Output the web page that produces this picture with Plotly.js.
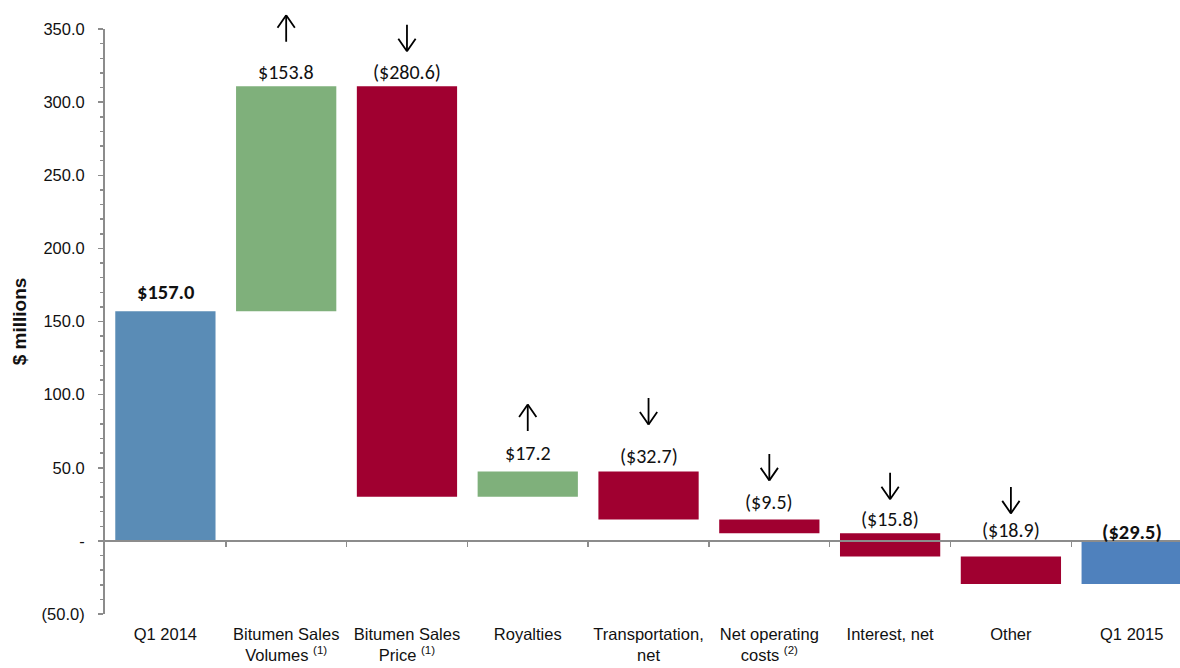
<!DOCTYPE html>
<html>
<head>
<meta charset="utf-8">
<script src="https://cdn.plot.ly/plotly-3.0.1.min.js"></script>
<style>html,body{margin:0;padding:0;background:#fff}#chart{width:1180px;height:668px}</style>
</head>
<body>
<div id="chart"></div>
<script>
// ---- data ----
const categories = [
  'Q1 2014',
  'Bitumen Sales<br>Volumes <sup>(1)</sup>',
  'Bitumen Sales<br>Price <sup>(1)</sup>',
  'Royalties',
  'Transportation,<br>net',
  'Net operating<br>costs <sup>(2)</sup>',
  'Interest, net',
  'Other',
  'Q1 2015'
];
const changes = [157.0, 153.8, -280.6, 17.2, -32.7, -9.5, -15.8, -18.9, -29.5];
const measures = ['total', 'delta', 'delta', 'delta', 'delta', 'delta', 'delta', 'delta', 'total'];
const yTickVals = [-50, 0, 50, 100, 150, 200, 250, 300, 350];
const yTickText = ['(50.0)', '-', '50.0', '100.0', '150.0', '200.0', '250.0', '300.0', '350.0'];

// ---- styles ----
const colStart = '#5A8CB6', colEnd = '#4F81BD', colUp = '#7FB07B', colDown = '#A00030';
const labelShift = [4, 0, 0, 5, 2, 3, 0, 12, -6];
const arrowBottom = [0, 44, 35, 40, 47, 39, 34, 43, 0];
const arrowLen = 27, headW = 9, headH = 13;
const axFont = '"Liberation Sans", Arial, sans-serif';
const calib = 'Carlito, Lato, "Open Sans", sans-serif';

// compute waterfall geometry
const xs = categories.map((_, i) => i);
const bases = [], colors = [], tops = [];
let running = 0;
changes.forEach((v, i) => {
  let b;
  if (measures[i] === 'total') { b = 0; running = v; colors.push(i === 0 ? colStart : colEnd); }
  else { b = running; running += v; colors.push(v >= 0 ? colUp : colDown); }
  bases.push(b);
  tops.push(Math.max(b, b + v));
});

function fmt(v) {
  const s = '$' + Math.abs(v).toFixed(1);
  return v < 0 ? '(' + s + ')' : s;
}

const bars = {
  type: 'bar', x: xs, y: changes, base: bases,
  marker: { color: colors, line: { width: 0 } },
  width: 0.83, hoverinfo: 'skip', showlegend: false
};
const dummy = {
  type: 'scatter', x: [0], y: [0], xaxis: 'x2', mode: 'markers',
  marker: { opacity: 0 }, hoverinfo: 'skip', showlegend: false
};

const annotations = changes.map((v, i) => ({
  x: i, y: tops[i], xref: 'x', yref: 'y', yanchor: 'bottom', yshift: labelShift[i],
  text: measures[i] === 'total' ? '<b>' + fmt(v) + '</b>' : fmt(v),
  showarrow: false, font: { family: calib, size: measures[i] === 'total' ? 20.5 : 20, color: '#111' }
}));

// arrows drawn as annotation line segments (tip anchored above each change bar)
changes.forEach((v, i) => {
  if (measures[i] !== 'delta') return;
  const up = v >= 0;
  const tip = up ? arrowBottom[i] + arrowLen : arrowBottom[i];
  const dir = up ? 1 : -1; // tails lie below the tip for up arrows (screen +y down)
  const segs = [[0, arrowLen * dir], [-headW, headH * dir], [headW, headH * dir]];
  segs.forEach(([ax, ay]) => {
    annotations.push({
      x: i, y: tops[i], xref: 'x', yref: 'y', yshift: tip,
      text: '', showarrow: true, arrowhead: 0, arrowwidth: 1.8, arrowcolor: '#000',
      ax: ax, ay: ay, standoff: 0, startstandoff: 0, borderpad: 0,
      font: { size: 1 }
    });
  });
});

const layout = {
  width: 1180, height: 668,
  margin: { l: 105, r: 0, t: 29, b: 54 },
  paper_bgcolor: '#fff', plot_bgcolor: '#fff',
  bargap: 0.17,
  xaxis: {
    type: 'linear', range: [-0.5, 8.4], tickmode: 'array', tickvals: xs, ticktext: categories,
    tickangle: 0,
    showgrid: false, zeroline: false, showline: false, ticks: '',
    ticklabelstandoff: 8,
    tickfont: { family: axFont, size: 16.5, color: '#111' }, automargin: false, fixedrange: true
  },
  xaxis2: {
    type: 'linear', overlaying: 'x', anchor: 'free', position: 50 / 400,
    range: [-0.5, 8.4], tickmode: 'array', tickvals: xs.map(i => i + 0.5),
    showticklabels: false, showgrid: false, zeroline: false,
    showline: true, linecolor: '#8C8C8C', linewidth: 2,
    ticks: 'outside', ticklen: 5, tickwidth: 1.5, tickcolor: '#8C8C8C', fixedrange: true
  },
  yaxis: {
    range: [-50, 350], tickmode: 'array', tickvals: yTickVals, ticktext: yTickText,
    showgrid: false, zeroline: false, showline: true, linecolor: '#8C8C8C', linewidth: 2,
    ticks: 'outside', ticklen: 5, tickwidth: 1.5, tickcolor: '#8C8C8C',
    minor: { tickmode: 'linear', tick0: 0, dtick: 10, ticks: 'outside', ticklen: 3, tickwidth: 1.5, tickcolor: '#8C8C8C', showgrid: false },
    ticklabelstandoff: 10,
    tickfont: { family: axFont, size: 16.5, color: '#111' },
    title: { text: '<b>$ millions</b>', font: { family: axFont, size: 19, color: '#111' }, standoff: 10 },
    automargin: false, fixedrange: true
  },
  annotations: annotations
};

Plotly.newPlot('chart', [bars, dummy], layout, { displayModeBar: false, staticPlot: true });
</script>
</body>
</html>
